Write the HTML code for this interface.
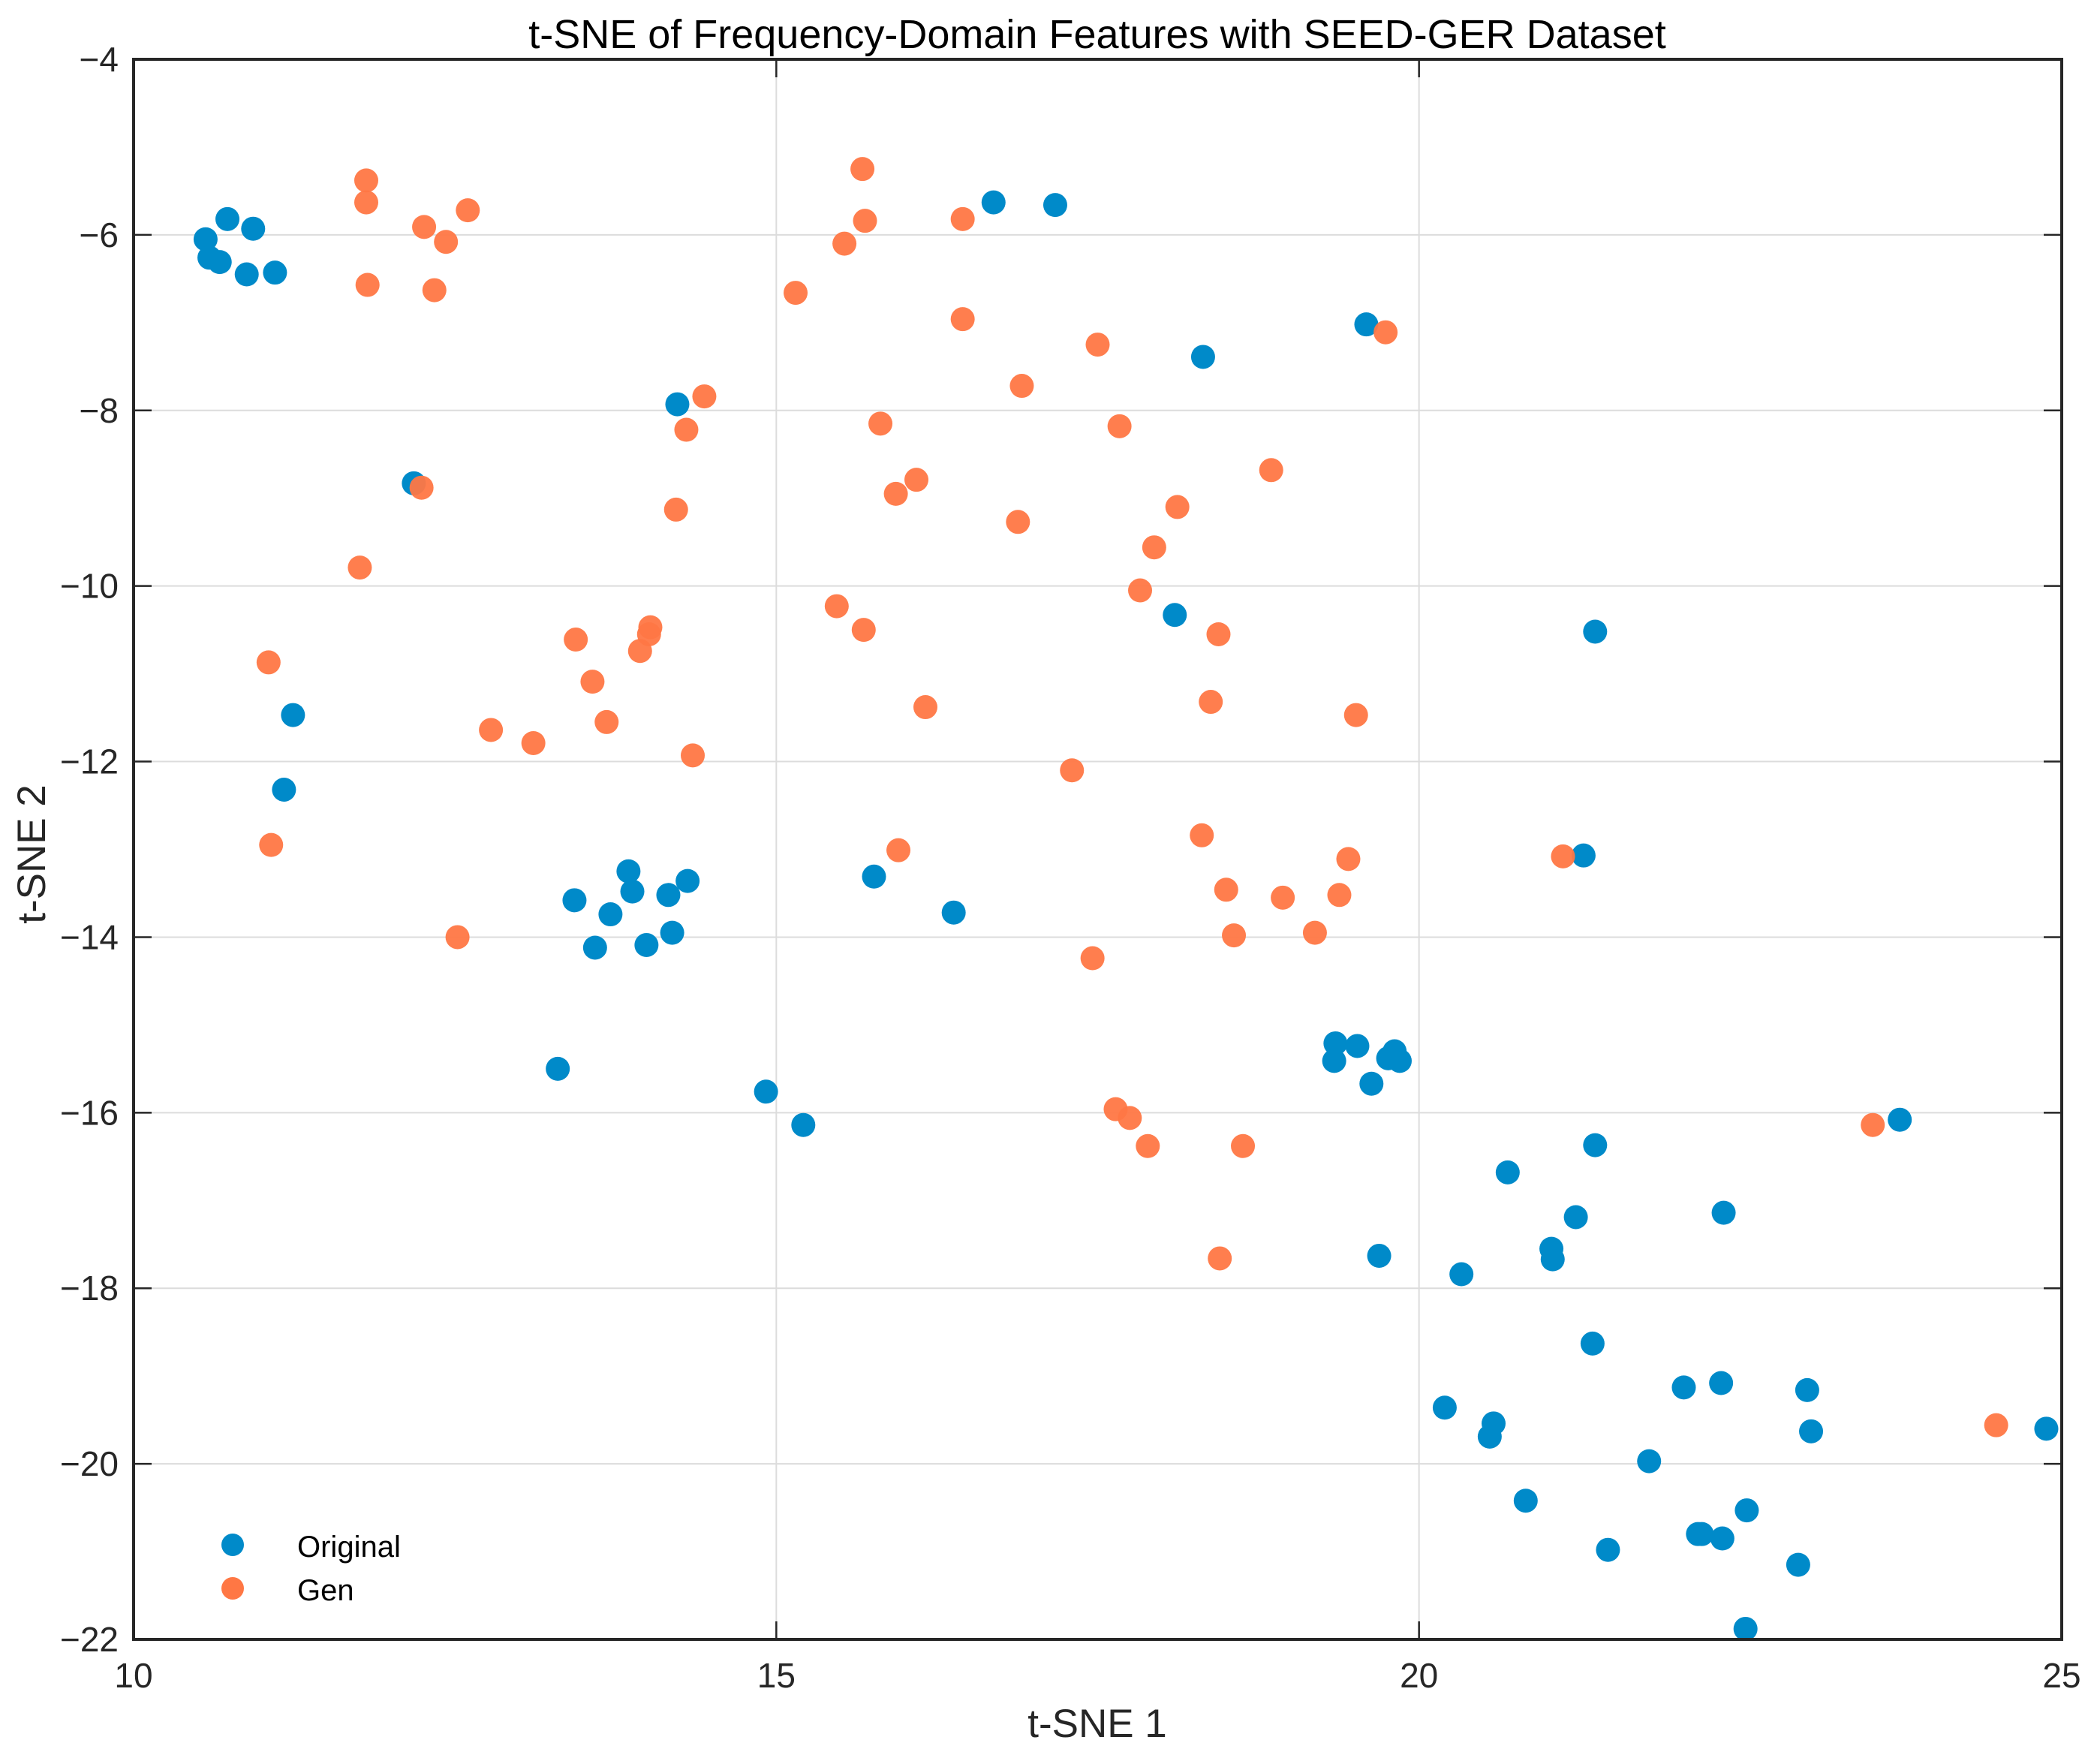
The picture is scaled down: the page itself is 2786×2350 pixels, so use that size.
<!DOCTYPE html>
<html><head><meta charset="utf-8">
<style>
html,body{margin:0;padding:0;background:#fff;}
svg{display:block;font-family:"Liberation Sans",Arial,sans-serif;}
</style></head>
<body>
<svg id="chart" width="2786" height="2350" viewBox="0 0 2786 2350" xmlns="http://www.w3.org/2000/svg">
<rect width="2786" height="2350" fill="#fff"/>
<g id="grid"></g>
<g id="ticks"></g>
<g id="points"></g>
<rect x="178" y="79" width="2569" height="2105" fill="none" stroke="#262626" stroke-width="4"/>
<text x="1462" y="64" font-size="54" text-anchor="middle" fill="#000">t-SNE of Frequency-Domain Features with SEED-GER Dataset</text>
<text x="1462" y="2314" font-size="53" text-anchor="middle" fill="#262626">t-SNE 1</text>
<text x="0" y="0" transform="translate(60,1138) rotate(-90)" font-size="53" text-anchor="middle" fill="#262626">t-SNE 2</text>
<g>
<circle cx="310" cy="2058" r="15" fill="#008ac9"/>
<text x="396" y="2074" font-size="40" fill="#000">Original</text>
<circle cx="310" cy="2116" r="15" fill="#ff7744"/>
<text x="396" y="2132" font-size="40" fill="#000">Gen</text>
</g>
</svg>
<script>
const xTicks = [10, 15, 20, 25];
const yTicks = [-4, -6, -8, -10, -12, -14, -16, -18, -20, -22];
const origX = [10.56,10.59,10.67,10.73,10.88,10.93,11.10,11.24,11.17,12.18,14.23,13.43,13.59,13.71,13.85,13.88,13.99,14.16,14.19,14.31,13.30,14.92,15.21,15.76,16.38,16.69,17.17,18.32,18.10,19.59,19.35,19.34,19.52,19.63,19.76,19.81,19.85,21.37,21.28,21.37,19.69,20.33,20.69,21.22,21.03,21.04,21.35,20.20,20.58,20.55,20.83,21.47,21.79,22.06,22.35,22.37,22.17,22.20,22.36,22.55,22.54,22.95,23.02,23.05,23.74,24.88];
const origY = [-6.05,-6.26,-6.31,-5.82,-6.45,-5.93,-6.43,-11.47,-12.32,-8.83,-7.93,-13.58,-14.12,-13.74,-13.25,-13.48,-14.09,-13.52,-13.95,-13.36,-15.50,-15.76,-16.14,-13.31,-13.72,-5.63,-5.66,-7.39,-10.33,-7.02,-15.21,-15.41,-15.24,-15.67,-15.38,-15.30,-15.41,-10.52,-13.07,-16.37,-17.63,-17.84,-16.68,-17.19,-17.55,-17.67,-18.63,-19.36,-19.54,-19.69,-20.42,-20.98,-19.97,-19.13,-19.08,-17.14,-20.80,-20.80,-20.85,-20.53,-21.88,-21.15,-19.16,-19.63,-16.08,-19.60];
const genX = [11.81,11.81,11.82,12.26,12.60,12.43,12.34,12.24,11.76,11.05,11.07,12.78,13.11,12.52,13.44,13.57,13.68,13.94,14.02,14.01,14.35,14.22,14.30,14.44,15.15,15.53,15.67,15.69,15.81,15.93,16.09,15.47,15.68,16.16,15.95,16.45,16.45,16.91,16.88,17.50,17.67,17.83,17.94,18.12,18.85,19.74,19.51,18.44,18.38,17.30,18.31,18.50,18.94,19.38,19.45,18.56,19.19,17.46,17.64,17.75,17.89,18.63,18.45,21.12,23.53,24.49];
const genY = [-5.38,-5.63,-6.57,-5.91,-5.72,-6.08,-6.63,-8.88,-9.79,-10.87,-12.95,-11.64,-11.79,-14.00,-10.61,-11.09,-11.55,-10.74,-10.47,-10.55,-11.93,-9.13,-8.22,-7.84,-6.66,-6.10,-5.25,-5.84,-8.15,-8.95,-8.79,-10.23,-10.50,-11.38,-13.01,-5.82,-6.96,-7.72,-9.27,-7.25,-8.18,-10.05,-9.56,-9.10,-8.68,-7.11,-11.47,-10.55,-11.32,-12.10,-12.84,-13.46,-13.55,-13.52,-13.11,-13.98,-13.95,-14.24,-15.96,-16.06,-16.38,-16.38,-17.66,-13.08,-16.14,-19.56];

const L=178,R=2747,T=79,B=2184;
function sx(v){return L+(v-10)/(25-10)*(R-L);}
function sy(v){return T+(-4-v)/(-4-(-22))*(B-T);}
const NS='http://www.w3.org/2000/svg';
const grid=document.getElementById('grid'), ticks=document.getElementById('ticks'), pts=document.getElementById('points');
function mk(tag,attrs,parent){const e=document.createElementNS(NS,tag);for(const k in attrs)e.setAttribute(k,attrs[k]);parent.appendChild(e);return e;}
xTicks.forEach(v=>{
  const x=sx(v);
  const g=mk('line',{x1:x,x2:x,y1:T,y2:B,stroke:'#dcdcdc','stroke-width':2},grid);
  
  
  const t1=mk('line',{x1:x,x2:x,y1:B,y2:B-24,stroke:'#262626','stroke-width':2.5},ticks);
  
  
  const t2=mk('line',{x1:x,x2:x,y1:T,y2:T+24,stroke:'#262626','stroke-width':2.5},ticks);
  
  
  const lb=mk('text',{x:x,y:B+64,'font-size':46,'text-anchor':'middle',fill:'#262626'},ticks);
  lb.textContent=String(v);
  
  
});
yTicks.forEach(v=>{
  const y=sy(v);
  const g=mk('line',{x1:L,x2:R,y1:y,y2:y,stroke:'#dcdcdc','stroke-width':2},grid);
  
  
  const t1=mk('line',{x1:L,x2:L+24,y1:y,y2:y,stroke:'#262626','stroke-width':2.5},ticks);
  
  
  const t2=mk('line',{x1:R,x2:R-24,y1:y,y2:y,stroke:'#262626','stroke-width':2.5},ticks);
  
  
  const lb=mk('text',{x:L-20,y:y+16,'font-size':46,'text-anchor':'end',fill:'#262626'},ticks);
  lb.textContent=String(v).replace('-','\u2212');
  
  
});
origX.forEach((v,i)=>{
  const c=mk('circle',{cx:sx(v),cy:sy(origY[i]),r:16,fill:'#008ac9'},pts);
  
  
});
genX.forEach((v,i)=>{
  const c=mk('circle',{cx:sx(v),cy:sy(genY[i]),r:16,fill:'#ff7744','fill-opacity':0.95},pts);
  
  
});
</script>
</body></html>
